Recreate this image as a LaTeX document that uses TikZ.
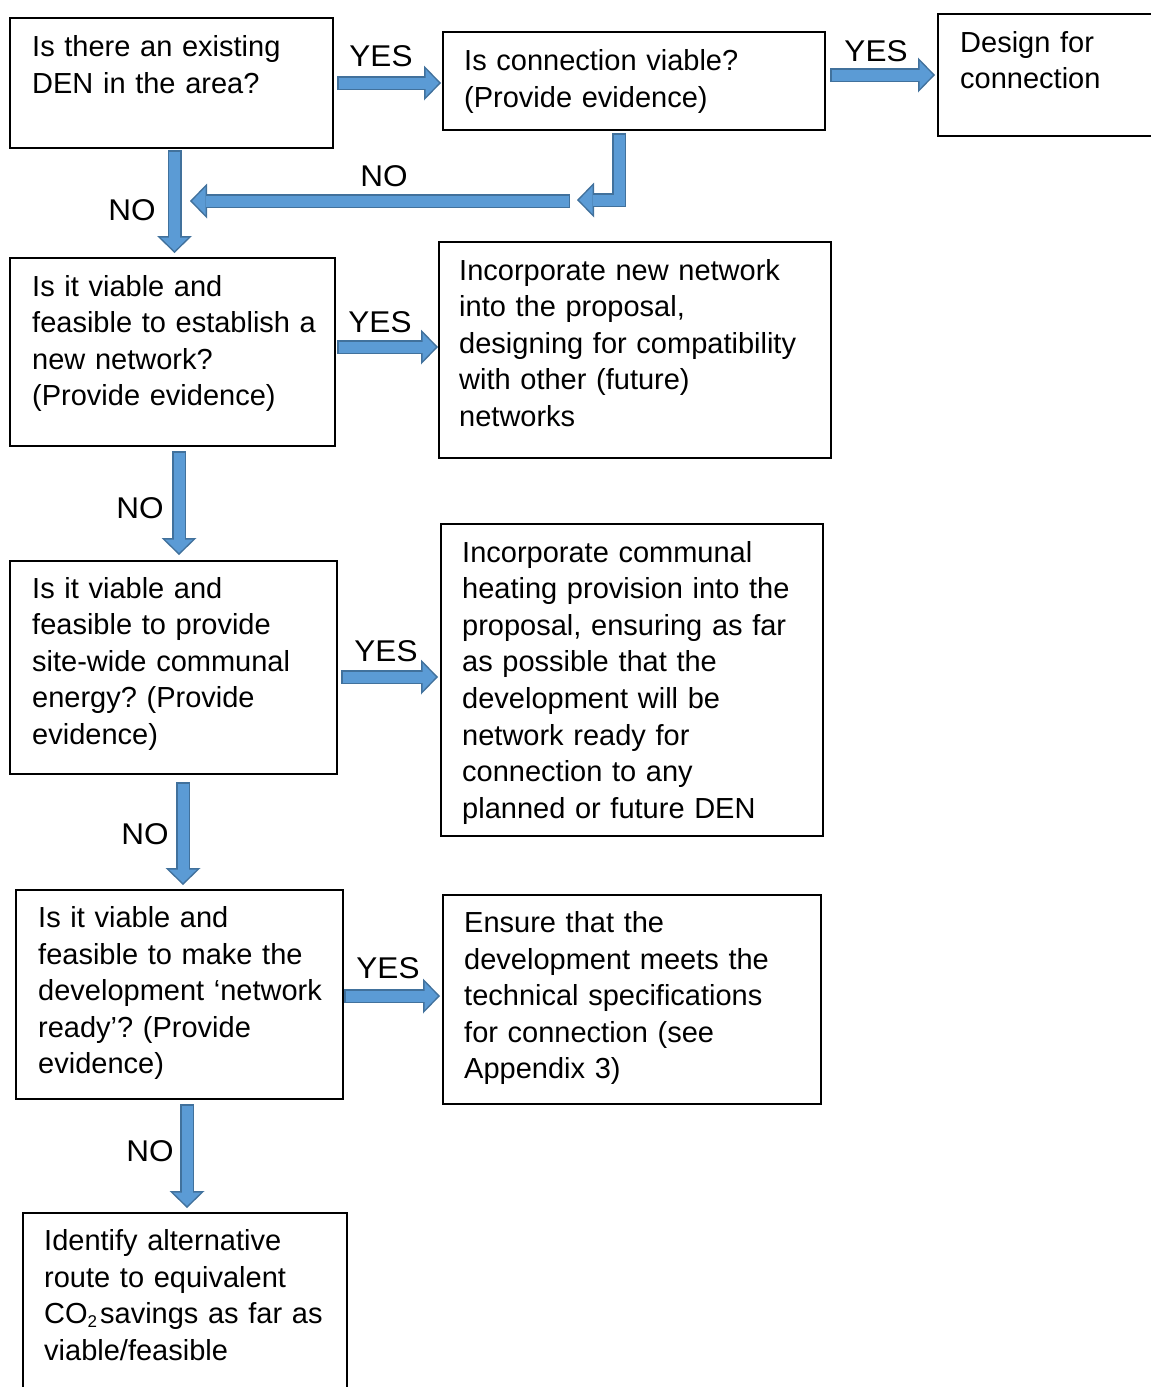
\documentclass[tikz,border=0pt]{standalone}
\usepackage{fontspec}
\setmainfont{Liberation Sans}
\newfontfamily\stretchfont[FakeStretch=1.05]{Liberation Sans}
\usepackage{xcolor}
\usetikzlibrary{arrows.meta}
\usetikzlibrary{calc}
\frenchspacing
\definecolor{arrfill}{HTML}{5B9BD5}
\definecolor{arredge}{HTML}{41719C}
\tikzset{
    box/.style = {draw=black, line width=1.5pt, anchor=north west, inner sep=0pt, outer sep=0pt},
    txt/.style = {anchor=base west, align=left, inner sep=0pt, text width=12cm, font=\fontsize{29}{36.6}\selectfont},
    lbl/.style = {inner sep=0pt, font=\stretchfont\fontsize{30}{32}\selectfont},
    blockarr/.style = {draw=arrfill, line width=11pt, shorten <=1.5pt, shorten >=2.1pt,
        -{Triangle[length=13.4pt, width=27.6pt, line width=0pt]},
        preaction={draw=arredge, line width=14pt, shorten <=0pt, shorten >=0pt,
            -{Triangle[length=17pt, width=35pt, line width=0pt]}}}
}

\begin{document}
\begin{tikzpicture}[x=1pt, y=-1pt]
    \useasboundingbox (0,0) rectangle (1151,1387);
    \clip (0,0) rectangle (1151,1387);

    % boxes
    \node[box, minimum width=323pt, minimum height=130pt] (den) at (10,18) {};
    \node[box, minimum width=382pt, minimum height=98pt] (viab) at (443,32) {};
    \node[box, minimum width=230pt, minimum height=122pt] (design) at (938,14) {};
    \node[box, minimum width=325pt, minimum height=188pt] (newnet) at (10,258) {};
    \node[box, minimum width=392pt, minimum height=216pt] (incnew) at (439,242) {};
    \node[box, minimum width=327pt, minimum height=213pt] (site) at (10,561) {};
    \node[box, minimum width=382pt, minimum height=312pt] (incomm) at (441,524) {};
    \node[box, minimum width=327pt, minimum height=209pt] (ready) at (16,890) {};
    \node[box, minimum width=378pt, minimum height=209pt] (ensure) at (443,895) {};
    \node[box, minimum width=324pt, minimum height=200pt] (alt) at (23,1213) {};

    % texts
    \node[txt] (den-t) at ($(den.north west)+(22,38.7)$) {Is there an existing\\DEN in the area?};
    \node[txt] (viab-t) at ($(viab.north west)+(21,38.5)$) {Is connection viable?\\(Provide evidence)};
    \node[txt] (design-t) at ($(design.north west)+(22,38)$) {Design for\\connection};
    \node[txt] (newnet-t) at ($(newnet.north west)+(22,38)$) {Is it viable and\\feasible to establish a\\new network?\\(Provide evidence)};
    \node[txt] (incnew-t) at ($(incnew.north west)+(20,38)$) {Incorporate new network\\into the proposal,\\designing for compatibility\\with other (future)\\networks};
    \node[txt] (site-t) at ($(site.north west)+(22,37)$) {Is it viable and\\feasible to provide\\site-wide communal\\energy? (Provide\\evidence)};
    \node[txt] (incomm-t) at ($(incomm.north west)+(21,38)$) {Incorporate communal\\heating provision into the\\proposal, ensuring as far\\as possible that the\\development will be\\network ready for\\connection to any\\planned or future DEN};
    \node[txt] (ready-t) at ($(ready.north west)+(22,37.5)$) {Is it viable and\\feasible to make the\\development ‘network\\ready’? (Provide\\evidence)};
    \node[txt] (ensure-t) at ($(ensure.north west)+(21,37.5)$) {Ensure that the\\development meets the\\technical specifications\\for connection (see\\Appendix 3)};
    \node[txt] (alt-t) at ($(alt.north west)+(21,37.5)$) {Identify alternative\\route to equivalent\\CO{\fontsize{17}{17}\selectfont\raisebox{-3.5pt}{2}}\hspace{3pt}savings as far as\\viable/feasible};

    % free ends of the NO loop
    \coordinate (turn) at (577,200);
    \coordinate (back) at (570,201);
    \coordinate (join) at (190,201);

    % block arrows
    \draw[blockarr] ($(den.east)+(4,0)$) -- ($(den.east -| viab.west)+(-2,0)$);
    \draw[blockarr] ($(viab.east |- design.west)+(5,0)$) -- ($(design.west)+(-3,0)$);
    \draw[blockarr] ($(viab.south)+(-15,3)$) |- (turn);
    \draw[blockarr] (back) -- (join);
    \draw[blockarr] ($(den.south)+(3,2)$) -- ($(den.south |- newnet.north)+(3,-5)$);
    \draw[blockarr] ($(newnet.east)+(2,-5)$) -- ($(newnet.east -| incnew.west)+(-1,-5)$);
    \draw[blockarr] ($(newnet.south)+(6.5,5)$) -- ($(newnet.south |- site.north)+(6.5,-6)$);
    \draw[blockarr] ($(site.east)+(4,9.5)$) -- ($(site.east -| incomm.west)+(-3,9.5)$);
    \draw[blockarr] ($(site.south)+(9.5,8)$) -- ($(site.south |- ready.north)+(9.5,-5)$);
    \draw[blockarr] ($(ready.east)+(1,1.5)$) -- ($(ready.east -| ensure.west)+(-3,1.5)$);
    \draw[blockarr] ($(ready.south)+(7.5,5)$) -- ($(ready.south |- alt.north)+(7.5,-5)$);

    % yes / no labels
    \node[lbl] (yes-a) at (381,56) {YES};
    \node[lbl] (yes-b) at (876,51) {YES};
    \node[lbl] (no-a) at (384,176) {NO};
    \node[lbl] (no-b) at (132,210) {NO};
    \node[lbl] (yes-c) at (380,322) {YES};
    \node[lbl] (no-c) at (140,508) {NO};
    \node[lbl] (yes-d) at (386,651) {YES};
    \node[lbl] (no-d) at (145,834) {NO};
    \node[lbl] (yes-e) at (388,968) {YES};
    \node[lbl] (no-e) at (150,1151) {NO};
\end{tikzpicture}
\end{document}
